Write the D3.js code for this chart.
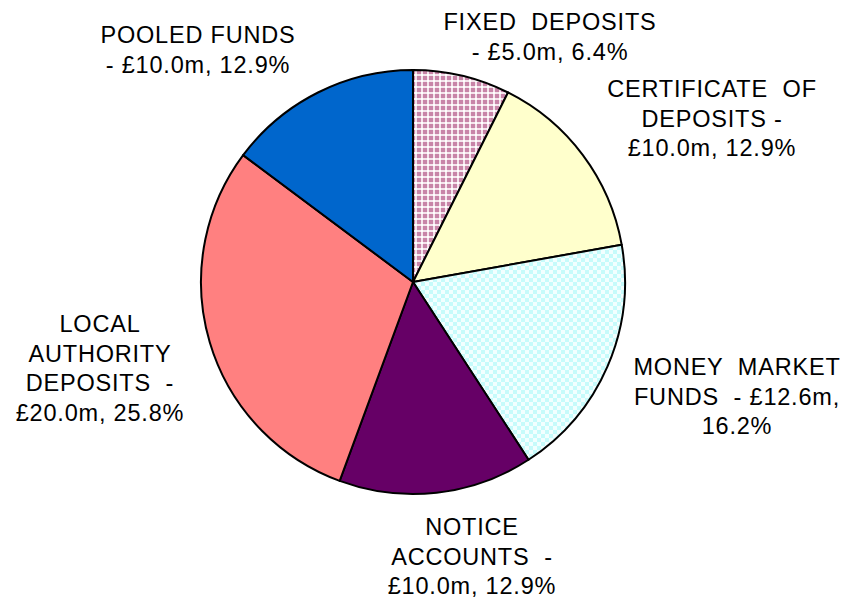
<!DOCTYPE html>
<html>
<head>
<meta charset="utf-8">
<script src="https://cdn.jsdelivr.net/npm/d3@7"></script>
<style>
  body { margin: 0; background: #fff; }
  svg text { font-family: "Liberation Sans", Arial, sans-serif; font-size: 23.5px; letter-spacing: 0.8px; fill: #000; }
</style>
</head>
<body>
<svg id="chart" width="851" height="603"></svg>
<script>
// slices, clockwise from 12 o'clock
const categories = ["FIXED DEPOSITS", "CERTIFICATE OF DEPOSITS", "MONEY MARKET FUNDS",
                    "NOTICE ACCOUNTS", "LOCAL AUTHORITY DEPOSITS", "POOLED FUNDS"];
const values = [5.0, 10.0, 12.6, 10.0, 20.0, 10.0];
const percents = ["6.4%", "12.9%", "16.2%", "12.9%", "25.8%", "12.9%"];
// label lines as they wrap in the picture
const labelLines = [
    ["FIXED  DEPOSITS", "- £5.0m, 6.4%"],
    ["CERTIFICATE  OF", "DEPOSITS -", "£10.0m, 12.9%"],
    ["MONEY  MARKET", "FUNDS  - £12.6m,", "16.2%"],
    ["NOTICE", "ACCOUNTS  -", "£10.0m, 12.9%"],
    ["LOCAL", "AUTHORITY", "DEPOSITS  -", "£20.0m, 25.8%"],
    ["POOLED FUNDS", "- £10.0m, 12.9%"]
];

const svg = d3.select("#chart");
const cx = 413, cy = 282, r = 212;

// fill patterns
const defs = svg.append("defs");
const pFixed = defs.append("pattern")
    .attr("id", "pFixed").attr("patternUnits", "userSpaceOnUse")
    .attr("width", 6).attr("height", 6);
pFixed.append("rect").attr("width", 6).attr("height", 6).attr("fill", "#c884a8");
pFixed.append("rect").attr("x", 0).attr("y", 2).attr("width", 6).attr("height", 2).attr("fill", "#f4e4ec");
pFixed.append("rect").attr("x", 2).attr("y", 0).attr("width", 2).attr("height", 6).attr("fill", "#f4e4ec");
pFixed.append("rect").attr("x", 2).attr("y", 2).attr("width", 2).attr("height", 2).attr("fill", "#fff");

const pMoney = defs.append("pattern")
    .attr("id", "pMoney").attr("patternUnits", "userSpaceOnUse")
    .attr("width", 8).attr("height", 8);
pMoney.append("rect").attr("width", 8).attr("height", 8).attr("fill", "#f2ffff");
pMoney.append("rect").attr("width", 4).attr("height", 4).attr("fill", "#c6fbfb");
pMoney.append("rect").attr("x", 4).attr("y", 4).attr("width", 4).attr("height", 4).attr("fill", "#c6fbfb");

const fills = ["url(#pFixed)", "#ffffcc", "url(#pMoney)", "#660066", "#ff8080", "#0066cc"];

const pie = d3.pie().sort(null).value(d => d);
const arc = d3.arc().innerRadius(0).outerRadius(r);

const g = svg.append("g").attr("transform", "translate(" + cx + "," + cy + ")");
g.selectAll("path.slice")
    .data(pie(values))
    .enter()
    .append("path")
        .attr("class", "slice")
        .attr("d", arc)
        .attr("fill", (d, i) => fills[i])
        .attr("stroke", "#000")
        .attr("stroke-width", 2)
        .attr("stroke-linejoin", "round");

// label anchor points (centre x, first baseline) for each slice
const labelPos = [[550, 30], [712, 97], [737, 375], [472, 535], [100, 332], [198, 43]];
const lineH = 29.5;

svg.selectAll("text.label")
    .data(labelLines)
    .enter()
    .append("text")
        .attr("class", "label")
        .attr("text-anchor", "middle")
        .attr("x", (d, i) => labelPos[i][0])
        .attr("y", (d, i) => labelPos[i][1])
        .style("white-space", "pre")
        .each(function(lines, i) {
            d3.select(this).selectAll("tspan")
                .data(lines)
                .enter()
                .append("tspan")
                    .attr("x", labelPos[i][0])
                    .attr("dy", (l, j) => j === 0 ? 0 : lineH)
                    .text(l => l);
        });
</script>
</body>
</html>
